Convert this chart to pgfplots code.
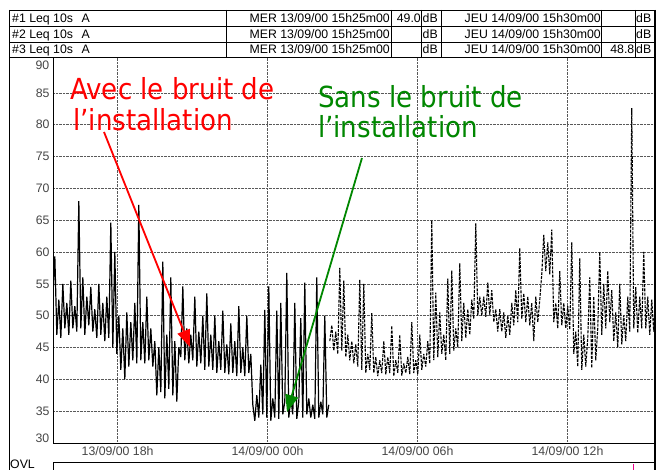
\documentclass[border=0pt]{standalone}
\usepackage{fontspec}
\setmainfont{Liberation Sans}
\newfontfamily\annotfont{DejaVu Sans}
\usepackage{pgfplots}
\pgfplotsset{compat=1.18}
\usetikzlibrary{arrows.meta}
\definecolor{annred}{RGB}{255,0,0}
\definecolor{anngreen}{RGB}{0,135,0}
\definecolor{ticklab}{RGB}{70,70,70}
\newcommand{\hf}{\fontsize{12.3}{14}\selectfont}
\newcommand{\af}{\annotfont\fontsize{29}{32}\selectfont}
\begin{document}
\begin{tikzpicture}
\path[use as bounding box] (0pt,0pt) rectangle (659pt,-470pt);
\fill[white] (0pt,0pt) rectangle (659pt,-470pt);
\begin{axis}[
  at={(53pt,-443pt)}, anchor=south west,
  scale only axis, width=602pt, height=385.7pt,
  xmin=15.4167, xmax=39.5, ymin=30, ymax=90.58,
  axis line style={black, line width=0.8pt},
  xtick={18,24,30,36},
  xticklabels={13/09/00 18h, 14/09/00 00h, 14/09/00 06h, 14/09/00 12h},
  ytick={35,40,...,85},
  major tick length=0pt,
  grid=major,
  major grid style={densely dotted, black!65, line width=0.5pt},
  tick label style={font=\hf, text=ticklab},
  /pgf/number format/assume math mode=true,
  clip=true,
]
% #1 : with installation noise (solid)
\addplot[black, line width=1.2pt, line join=bevel] coordinates {
(15.41,53)(15.49,59.3)(15.57,47)(15.65,52.5)(15.73,46.5)(15.81,55)(15.89,48)(15.97,52)(16.05,47)(16.13,55.5)
(16.21,48)(16.29,51.5)(16.37,47.5)(16.45,68)(16.53,48)(16.61,56)(16.69,47)(16.77,53)(16.85,48.5)(16.93,54.5)
(17.01,47.5)(17.09,51)(17.17,46.5)(17.25,55)(17.33,47)(17.41,52)(17.49,46)(17.57,53)(17.65,46.5)(17.73,64.6)
(17.81,45)(17.89,60)(17.97,44)(18.05,50)(18.13,41.5)(18.21,48)(18.29,40)(18.37,50.5)(18.45,42)(18.53,49)
(18.61,43)(18.69,52)(18.77,42.5)(18.85,67.4)(18.93,43)(19.01,49)(19.09,42.5)(19.17,53)(19.25,43)(19.33,48)
(19.41,42)(19.49,46)(19.57,37.5)(19.65,45)(19.73,38)(19.81,58.5)(19.89,37)(19.97,47)(20.05,38.5)(20.13,56)
(20.21,37.5)(20.29,46)(20.37,36.5)(20.45,45)(20.53,43.5)(20.61,54.6)(20.69,43)(20.77,48)(20.85,42.5)(20.93,47)
(21.01,43)(21.09,53)(21.17,42)(21.25,47.5)(21.33,42.5)(21.41,50)(21.49,41.5)(21.57,53.5)(21.65,42)(21.73,47)
(21.81,41.5)(21.89,50)(21.97,41)(22.05,46)(22.13,41.5)(22.21,50.8)(22.29,41)(22.37,45.5)(22.45,40.8)(22.53,48.8)
(22.61,41)(22.69,46)(22.77,40.5)(22.85,51.5)(22.93,41)(23.01,45)(23.09,40.5)(23.17,50)(23.25,41)(23.33,44)
(23.41,36)(23.49,33.5)(23.57,37.5)(23.65,34)(23.73,42.3)(23.81,34.5)(23.89,50.9)(23.97,34)(24.05,54.6)(24.13,33.5)
(24.21,37)(24.29,34)(24.37,50.8)(24.45,33.8)(24.53,52)(24.61,34.5)(24.69,36.5)(24.77,56.7)(24.85,34)(24.93,37)
(25.01,34.5)(25.09,52)(25.17,33.8)(25.25,36.5)(25.33,49.6)(25.41,34)(25.49,55.2)(25.57,34.5)(25.65,37)(25.73,34)
(25.81,36)(25.89,33.8)(25.97,56)(26.05,34)(26.13,36.5)(26.21,34.5)(26.29,50)(26.37,34)(26.45,36)
};
% #3 : without installation noise (dashed)
\addplot[black, line width=1.1pt, line join=bevel, dash pattern=on 3pt off 1.2pt] coordinates {
(26.49,46)(26.57,48.5)(26.65,44.5)(26.73,47.5)(26.81,44)(26.89,57.5)(26.97,44.5)(27.05,55.5)(27.13,43.5)(27.21,47)
(27.29,43)(27.37,46)(27.45,42.5)(27.53,45.5)(27.61,42)(27.69,55.6)(27.77,41.5)(27.85,55)(27.93,41)(28.01,44)
(28.09,41.5)(28.17,50.4)(28.25,41)(28.33,43.5)(28.41,40.5)(28.49,43)(28.57,41)(28.65,46)(28.73,40.8)(28.81,43.5)
(28.89,41)(28.97,48.4)(29.05,40.5)(29.13,43)(29.21,41)(29.29,47)(29.37,40.6)(29.45,42.5)(29.53,41)(29.61,43.5)
(29.69,40.8)(29.77,49)(29.85,41)(29.93,43)(30.01,40.8)(30.09,47)(30.17,41.5)(30.25,44)(30.33,42)(30.41,46)
(30.49,42.5)(30.57,65)(30.65,43)(30.73,53.6)(30.81,43.5)(30.89,50.5)(30.97,44)(31.05,47)(31.13,43)(31.21,55.8)
(31.29,44)(31.37,57.1)(31.45,44.5)(31.53,48)(31.61,45)(31.69,58.2)(31.77,46)(31.85,52)(31.93,46.5)(32.01,51)
(32.09,47)(32.17,52.5)(32.25,49.5)(32.33,64.5)(32.41,50)(32.49,53)(32.57,50)(32.65,53)(32.73,49.8)(32.81,55.2)
(32.89,50)(32.97,54)(33.05,49)(33.13,51)(33.21,47.5)(33.29,51)(33.37,47.5)(33.45,50.5)(33.53,46.5)(33.61,50)
(33.69,47)(33.77,52)(33.85,48.5)(33.93,54)(34.01,49)(34.09,60.6)(34.17,49.5)(34.25,53.5)(34.33,49)(34.41,53)
(34.49,48.5)(34.57,52)(34.65,46)(34.73,53)(34.81,49)(34.89,52.5)(34.97,56.5)(35.05,62.7)(35.13,57)(35.21,61.5)
(35.29,56.5)(35.37,63.5)(35.45,49)(35.53,52)(35.61,48)(35.69,57)(35.77,48.5)(35.85,52)(35.93,48)(36.01,51.5)
(36.09,47.8)(36.17,61.5)(36.25,44)(36.33,47.5)(36.41,42)(36.49,59)(36.57,41.5)(36.65,47)(36.73,42)(36.81,46.5)
(36.89,56)(36.97,41.8)(37.05,53)(37.13,43)(37.21,48)(37.29,60)(37.37,47)(37.45,55)(37.53,48)(37.61,57)
(37.69,49)(37.77,54)(37.85,46)(37.93,50.5)(38.01,45)(38.09,55)(38.17,45.5)(38.25,50)(38.33,46)(38.41,53)
(38.49,47.5)(38.57,82.6)(38.65,48)(38.73,54.5)(38.81,47.3)(38.89,53)(38.97,48)(39.05,60)(39.13,48)(39.21,53)
(39.29,47)(39.37,52.5)(39.45,47.5)(39.53,53)
};
% annotations
\node[anchor=base west, text=annred, inner sep=0pt] at (axis cs:16.097,84.03) {\af\scalebox{0.9}[1]{Avec le bruit de}};
\node[anchor=base west, text=annred, inner sep=0pt] at (axis cs:16.217,79.16) {\af\scalebox{0.9}[1]{l’installation}};
\node[anchor=base west, text=anngreen, inner sep=0pt] at (axis cs:26.017,82.77) {\af\scalebox{0.9}[1]{Sans le bruit de}};
\node[anchor=base west, text=anngreen, inner sep=0pt] at (axis cs:26.017,78.06) {\af\scalebox{0.9}[1]{l’installation}};
\draw[annred, line width=1.8pt, -{Triangle[length=17pt,width=13pt]}] (axis cs:17.457,78.85) -- (axis cs:20.897,45.08);
\draw[anngreen, line width=1.8pt, -{Triangle[length=17pt,width=13pt]}] (axis cs:27.777,74.76) -- (axis cs:24.777,34.87);
\end{axis}
% y labels at the ends
\node[anchor=east, text=ticklab, inner sep=0pt, font=\hf] at (49.5pt,-65pt) {90};
\node[anchor=east, text=ticklab, inner sep=0pt, font=\hf] at (49.5pt,-438pt) {30};
% header table
\begin{scope}[line width=0.8pt]
\draw (9pt,-10pt) -- (655pt,-10pt);
\draw (9pt,-26pt) -- (655pt,-26pt);
\draw (9pt,-42pt) -- (655pt,-42pt);
\draw (9pt,-57.3pt) -- (655pt,-57.3pt);
\foreach \xx in {226.7,391,421.7,441.7,601.7,635}{\draw (\xx pt,-10pt) -- (\xx pt,-57.3pt);}
\draw (9pt,-10pt) -- (9pt,-470pt);
\draw (53pt,-462.7pt) -- (655pt,-462.7pt);
\draw (53pt,-462.7pt) -- (53pt,-470pt);
\end{scope}
\draw[line width=1.6pt] (655pt,-10pt) -- (655pt,-470pt);
\draw[magenta, line width=0.8pt] (633pt,-464pt) -- (633pt,-470pt);
\foreach \n/\yy in {1/22.5,2/38.5,3/54}{
  \node[anchor=base west, inner sep=0pt, font=\hf] at (12pt,-\yy pt) {\#\n\ Leq 10s\hspace{0.7em}A};
  \node[anchor=base east, inner sep=0pt, font=\hf] at (390pt,-\yy pt) {MER 13/09/00 15h25m00};
  \node[anchor=base west, inner sep=0pt, font=\hf] at (422.5pt,-\yy pt) {dB};
  \node[anchor=base east, inner sep=0pt, font=\hf] at (601pt,-\yy pt) {JEU 14/09/00 15h30m00};
  \node[anchor=base west, inner sep=0pt, font=\hf] at (636pt,-\yy pt) {dB};
}
\node[anchor=base east, inner sep=0pt, font=\hf] at (421pt,-22.5pt) {49.0};
\node[anchor=base east, inner sep=0pt, font=\hf] at (634.5pt,-54pt) {48.8};
\node[anchor=north west, inner sep=0pt, font=\hf] at (10pt,-460pt) {OVL};
\end{tikzpicture}
\end{document}
